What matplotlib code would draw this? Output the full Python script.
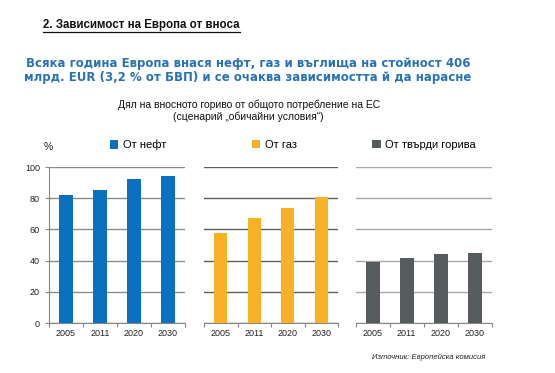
import matplotlib
matplotlib.use('Agg')
import matplotlib.pyplot as plt
from matplotlib.lines import Line2D

# данни (оценени от графиката)
years = ['2005', '2011', '2020', '2030']
oil = [82, 85, 92.5, 94]
gas = [58, 67.5, 73.5, 81]
solid = [39, 41.5, 44, 45]

labels = ['От нефт', 'От газ', 'От твърди горива']
colors = ['#0A70C0', '#F9B225', '#565B5D']
grid_colors = ['#8C8C8C', '#5E5E5E', '#A8A8A8']
series = [oil, gas, solid]

plt.rcParams['font.family'] = ['Liberation Sans', 'DejaVu Sans']

fig = plt.figure(figsize=(5.55, 3.73), dpi=100)

lefts = [0.0883, 0.3676, 0.641]
widths = [0.245, 0.2414, 0.245]
leg_x = [0.249, 0.494, 0.764]

for i in range(3):
    ax = fig.add_axes([lefts[i], 0.134, widths[i], 0.418])
    ax.bar(range(4), series[i], width=0.4, color=colors[i], label=labels[i], zorder=3)
    ax.set_xlim(-0.5, 3.5)
    ax.set_ylim(0, 100)
    ax.set_yticks(range(0, 101, 20))
    ax.yaxis.grid(True, color=grid_colors[i], linewidth=1.0, zorder=0)
    ax.set_xticks([0.5, 1.5, 2.5, -0.5, 3.5], minor=False)
    ax.set_xticklabels([])
    ax.set_xticks(range(4), minor=True)
    ax.set_xticklabels(years, minor=True, fontsize=6.5, color='#222222')
    ax.tick_params(axis='x', which='major', length=3, color='#888888', direction='out')
    ax.tick_params(axis='x', which='minor', length=0, pad=4)
    for s in ['top', 'right']:
        ax.spines[s].set_visible(False)
    ax.spines['bottom'].set_color('#888888')
    if i == 0:
        ax.spines['left'].set_color('#888888')
        ax.tick_params(axis='y', length=3, color='#888888', labelsize=6.5, labelcolor='#222222')
    else:
        ax.spines['left'].set_visible(False)
        ax.tick_params(axis='y', length=0, labelleft=False)
    ax.legend(frameon=False, loc='center', bbox_to_anchor=(leg_x[i], 0.611),
              bbox_transform=fig.transFigure, fontsize=8, handlelength=0.75,
              handleheight=0.75, handletextpad=0.4, borderaxespad=0)

fig.text(0.078, 0.606, '%', fontsize=7.5, color='#222222', va='center')

# заглавия
head = fig.text(0.078, 0.933, '2. Зависимост на Европа от вноса', fontsize=8.3,
                fontweight='bold', color='#111111', va='center')
fig.canvas.draw()
bb = head.get_window_extent().transformed(fig.transFigure.inverted())
fig.add_artist(Line2D([bb.x0, bb.x1], [bb.y0 - 0.004, bb.y0 - 0.004], color='#111111', linewidth=0.9))

fig.text(0.447, 0.811, 'Всяка година Европа внася нефт, газ и въглища на стойност 406\n'
         'млрд. EUR (3,2 % от БВП) и се очаква зависимостта й да нарасне',
         fontsize=8.45, fontweight='bold', color='#2873B6', ha='center', va='center',
         linespacing=1.1, family=['DejaVu Sans'])

fig.text(0.448, 0.702, 'Дял на вносното гориво от общото потребление на ЕС\n(сценарий „обичайни условия“)',
         fontsize=7.5, color='#111111', ha='center', va='center', linespacing=1.2)

fig.text(0.772, 0.043, 'Източник: Европейска комисия', fontsize=5.5, style='italic',
         color='#222222', ha='center', va='center')

fig.savefig('out.png', dpi=100)
